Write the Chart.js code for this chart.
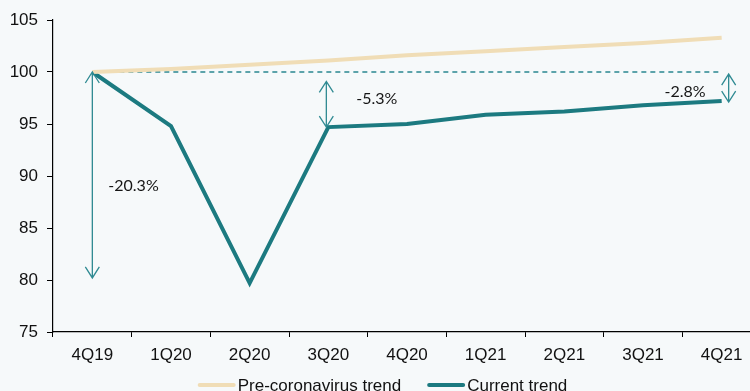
<!DOCTYPE html>
<html>
<head>
<meta charset="utf-8">
<script src="https://cdn.jsdelivr.net/npm/chart.js@4/dist/chart.umd.min.js"></script>
<style>
  html, body { margin: 0; padding: 0; background: #f6f9fa; overflow: hidden; }
  #wrap { width: 762px; height: 391px; position: relative; }
</style>
</head>
<body>
<div id="wrap"><canvas id="chart"></canvas></div>
<script>
// Trimestres e índices (4Q19 = 100)
const quarters = ['4Q19', '1Q20', '2Q20', '3Q20', '4Q20', '1Q21', '2Q21', '3Q21', '4Q21'];
const preCovidTrend = [100, 100.3, 100.7, 101.1, 101.6, 102.0, 102.4, 102.8, 103.3];
const currentTrend = [100, 94.8, 79.7, 94.7, 95.0, 95.9, 96.2, 96.8, 97.2];
const baseline = [100, 100, 100, 100, 100, 100, 100, 100, 100];
const yTicks = [75, 80, 85, 90, 95, 100, 105];

// Setas de diferença: índice do trimestre, valor inicial, valor final, deslocamento em px
const gaps = [
    { idx: 0, from: 100, to: 80.2, dx: 0, label: '-20.3%', ly: 89.1, lx: 16, align: 'left' },
    { idx: 3, from: 99.1, to: 94.7, dx: -2, label: '-5.3%', ly: 97.4, lx: 28, align: 'left' },
    { idx: 8, from: 99.8, to: 97.1, dx: 7, label: '-2.8%', ly: 98.1, lx: -16, align: 'right' }
];

const teal = '#1c7a80';
const arrowTeal = '#2f8a92';
const tan = '#f0ddb6';

const gapArrows = {
    id: 'gapArrows',
    afterDatasetsDraw(chart) {
        const { ctx, scales: { x, y } } = chart;
        ctx.save();
        ctx.strokeStyle = arrowTeal;
        ctx.lineWidth = 1.3;
        gaps.forEach(g => {
            const px = x.getPixelForValue(g.idx) + g.dx;
            const y1 = y.getPixelForValue(g.from);
            const y2 = y.getPixelForValue(g.to);
            ctx.beginPath();
            ctx.moveTo(px, y1);
            ctx.lineTo(px, y2);
            // pontas abertas
            ctx.moveTo(px - 7, y1 + 11);
            ctx.lineTo(px, y1);
            ctx.lineTo(px + 7, y1 + 11);
            ctx.moveTo(px - 7, y2 - 11);
            ctx.lineTo(px, y2);
            ctx.lineTo(px + 7, y2 - 11);
            ctx.stroke();

            ctx.fillStyle = '#161616';
            ctx.font = '16px Lato, "Open Sans", sans-serif';
            ctx.textAlign = g.align;
            ctx.textBaseline = 'middle';
            ctx.fillText(g.label, x.getPixelForValue(g.idx) + g.lx, y.getPixelForValue(g.ly));
        });
        ctx.restore();
    }
};

// Legenda desenhada à mão para controlar o espaçamento
const bottomLegend = {
    id: 'bottomLegend',
    afterDraw(chart) {
        const { ctx } = chart;
        const items = chart.data.datasets.filter(d => d.label);
        ctx.save();
        ctx.font = '17px "Liberation Sans", Arial, sans-serif';
        ctx.textBaseline = 'alphabetic';
        ctx.textAlign = 'left';
        const sw = 36, gapTxt = 3, gapItem = 27;
        const widths = items.map(d => sw + gapTxt + ctx.measureText(d.label).width);
        const total = widths.reduce((a, b) => a + b, 0) + gapItem * (items.length - 1);
        let cx = 383 - total / 2;
        const lineY = 385;
        items.forEach((d, i) => {
            ctx.strokeStyle = d.borderColor;
            ctx.lineWidth = 4;
            ctx.lineCap = 'round';
            ctx.beginPath();
            ctx.moveTo(cx + 1, lineY);
            ctx.lineTo(cx + sw - 1, lineY);
            ctx.stroke();
            ctx.fillStyle = '#111';
            ctx.fillText(d.label, cx + sw + gapTxt, lineY + 6);
            cx += widths[i] + gapItem;
        });
        ctx.restore();
    }
};

const ctx = document.getElementById('chart').getContext('2d');

new Chart(ctx, {
    type: 'line',
    data: {
        labels: quarters,
        datasets: [
            {
                label: 'Pre-coronavirus trend',
                data: preCovidTrend,
                borderColor: tan,
                borderWidth: 4,
                pointRadius: 0,
                tension: 0
            },
            {
                label: 'Current trend',
                data: currentTrend,
                borderColor: teal,
                borderWidth: 4,
                borderJoinStyle: 'miter',
                pointRadius: 0,
                tension: 0
            },
            {
                label: '',
                data: baseline,
                borderColor: '#2a8790',
                borderWidth: 1.5,
                borderDash: [5, 4],
                pointRadius: 0
            }
        ]
    },
    options: {
        responsive: true,
        maintainAspectRatio: false,
        animation: false,
        layout: { padding: { top: 20, right: 1, left: 0, bottom: 0 } },
        plugins: {
            legend: { display: false },
            tooltip: { enabled: false }
        },
        scales: {
            x: {
                offset: true,
                border: { color: '#000', width: 1.2 },
                grid: { offset: true, drawOnChartArea: false, tickLength: 5, color: '#000' },
                ticks: { color: '#111', padding: 8, maxRotation: 0, font: { family: '"Liberation Sans", Arial', size: 17 } },
                afterFit(scale) { scale.height = 59; }
            },
            y: {
                min: 75,
                max: 105,
                afterBuildTicks(scale) { scale.ticks = yTicks.map(v => ({ value: v })); },
                border: { color: '#000', width: 1.2 },
                grid: { drawOnChartArea: false, tickLength: 6, color: '#000' },
                ticks: { color: '#111', padding: 9, font: { family: '"Liberation Sans", Arial', size: 17 } },
                afterFit(scale) { scale.width = 53; }
            }
        }
    },
    plugins: [gapArrows, bottomLegend]
});
</script>
</body>
</html>
